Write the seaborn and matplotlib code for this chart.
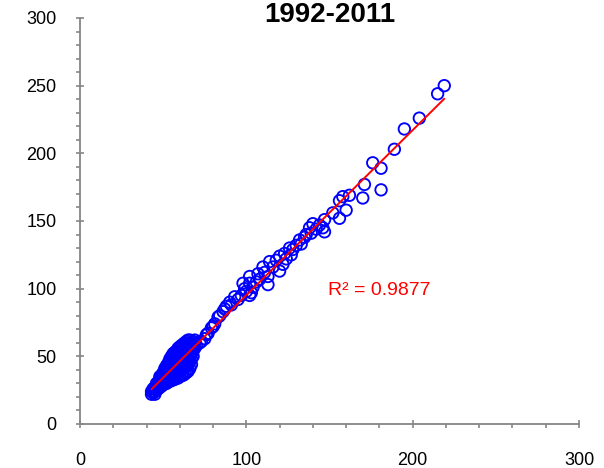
import numpy as np
import pandas as pd
import seaborn as sns
import matplotlib.pyplot as plt
from matplotlib.ticker import MultipleLocator


# ============================================
# DATA
# ============================================

# dense lower cluster
blob_x = [
    43, 43,
    44, 44,
    45, 45, 45,
    46, 46, 46,
    47, 47, 47,
    48, 48, 48, 48,
    49, 49, 49, 49,
    50, 50, 50, 50,
    51, 51, 51, 51, 51,
    52, 52, 52, 52, 52,
    53, 53, 53, 53, 53,
    54, 54, 54, 54, 54, 54,
    55, 55, 55, 55, 55, 55,
    56, 56, 56, 56, 56, 56,
    57, 57, 57, 57, 57, 57,
    58, 58, 58, 58, 58, 58,
    59, 59, 59, 59, 59, 59,
    60, 60, 60, 60, 60, 60,
    61, 61, 61, 61, 61, 61,
    62, 62, 62, 62, 62, 62,
    63, 63, 63, 63, 63, 63,
    64, 64, 64, 64, 64, 64,
    65, 65, 65, 65, 65, 65,
    66, 66, 66, 66, 66, 66,
    67, 67, 67, 67, 67,
    68, 68, 68, 68,
    69, 69, 69,
    70,
]
blob_y = [
    22, 24,
    23, 26,
    24, 27, 22,
    25, 28, 30,
    26, 29, 31,
    27, 30, 33, 35,
    28, 31, 34, 36,
    29, 32, 35, 38,
    30, 33, 36, 39, 41,
    30, 34, 37, 40, 43,
    31, 35, 38, 42, 45,
    32, 35, 39, 43, 46, 48,
    32, 36, 40, 44, 47, 50,
    33, 37, 41, 45, 49, 52,
    33, 38, 42, 46, 50, 53,
    34, 38, 43, 47, 51, 54,
    34, 39, 44, 48, 52, 56,
    35, 40, 45, 49, 53, 57,
    36, 41, 46, 50, 54, 58,
    36, 42, 46, 51, 55, 59,
    37, 42, 47, 52, 56, 60,
    38, 43, 48, 53, 57, 61,
    39, 44, 49, 54, 58, 62,
    41, 46, 50, 55, 59, 62,
    44, 48, 52, 56, 60,
    50, 54, 58, 61,
    56, 60, 62,
    58,
]

# middle band
band_x = [72, 73, 75, 76, 77, 79, 80, 81, 83, 84, 86, 87, 88, 90, 91,
          93, 95, 97, 98, 99, 100, 102, 102, 102, 103, 104, 106, 107, 108, 110,
          111, 113, 113, 114, 116, 118, 120, 120, 122, 123, 124, 126, 127, 128, 130,
          132, 133, 135, 136, 138, 139, 140, 142, 144, 146, 147, 147]
band_y = [60, 61, 63, 66, 67, 71, 72, 74, 79, 80, 83, 85, 87, 90, 88,
          94, 92, 95, 104, 100, 98, 104, 109, 95, 97, 101, 105, 111, 107, 116,
          112, 109, 103, 120, 116, 121, 113, 124, 118, 126, 122, 130, 125, 129, 132,
          136, 133, 138, 140, 145, 141, 148, 144, 147, 145, 142, 151]

# sparse upper points
top_x = [152, 156, 156, 158, 160, 162, 170, 171, 176, 181, 181, 189, 195, 204, 215, 219]
top_y = [156, 152, 165, 168, 158, 169, 167, 177, 193, 189, 173, 203, 218, 226, 244, 250]

title = "1992-2011"
r2_label = "R\u00b2 = 0.9877"
x_ticks = [0, 100, 200, 300]
y_ticks = [0, 50, 100, 150, 200, 250, 300]


# ============================================
# PLOT
# ============================================

df = pd.DataFrame({
    "x": blob_x + band_x + top_x,
    "y": blob_y + band_y + top_y,
})

sns.set_style("white")
plt.rcParams['font.family'] = ['Liberation Sans', 'DejaVu Sans']

fig = plt.figure(figsize=(6.04, 4.68), dpi=100)
ax = fig.add_axes([80 / 604, 44 / 468, 499 / 604, 406 / 468])

sns.scatterplot(data=df, x="x", y="y", ax=ax, marker="o", s=68,
                fc="none", ec="#0000FF", linewidth=1.35, zorder=2)
sns.regplot(data=df, x="x", y="y", ax=ax, scatter=False, ci=None,
            line_kws={"color": "#FF0000", "lw": 1.4, "zorder": 3})

ax.set_xlim(0, 300)
ax.set_ylim(0, 300)
ax.set_xticks(x_ticks)
ax.set_yticks(y_ticks)
ax.xaxis.set_minor_locator(MultipleLocator(20))
ax.yaxis.set_minor_locator(MultipleLocator(10))
ax.set_xlabel("")
ax.set_ylabel("")

grey = "#868686"
for side in ["top", "right"]:
    ax.spines[side].set_visible(False)
for side in ["left", "bottom"]:
    ax.spines[side].set_color(grey)
    ax.spines[side].set_linewidth(1.3)

ax.tick_params(which="both", bottom=True, left=True, top=False, right=False)
ax.tick_params(which="major", direction="inout", length=6, width=1.2,
               color=grey, labelsize=13, labelcolor="black")
ax.tick_params(which="minor", direction="out", length=3, width=1.2, color=grey)
ax.tick_params(axis="x", which="major", pad=17.5)
ax.tick_params(axis="y", which="major", pad=14)

ax.text(0.5, 1.007, title, transform=ax.transAxes, ha="center", va="center",
        fontsize=20, fontweight="bold", color="black")
ax.text(180, 99, r2_label, ha="center", va="center", fontsize=14, color="#FF0000")

fig.savefig("out.png", dpi=100)
